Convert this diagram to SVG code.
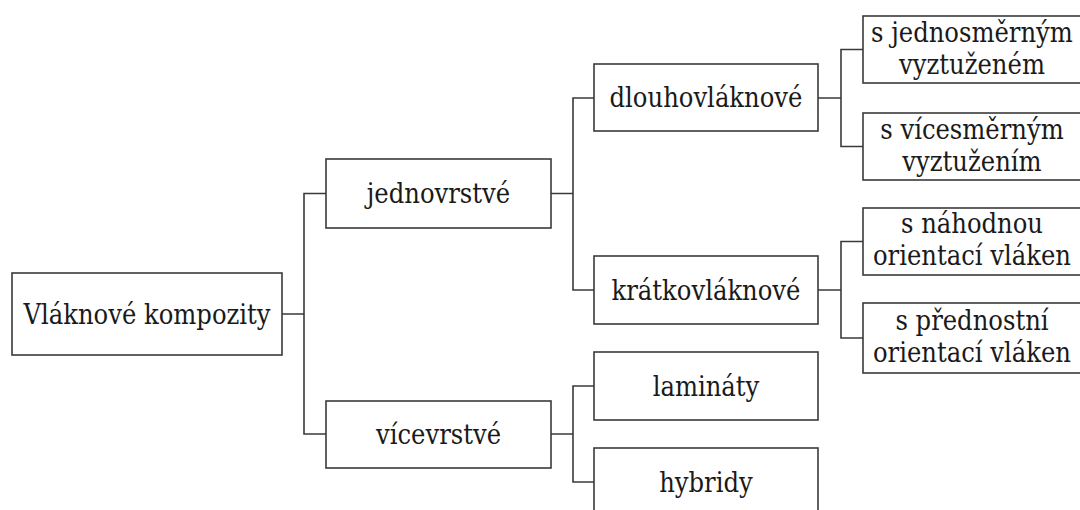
<svg xmlns="http://www.w3.org/2000/svg" width="1080" height="510" viewBox="0 0 1080 510">
<style>
.box{fill:#fff;stroke:#3a3a3a;stroke-width:1.6}
.t{font-family:'DejaVu Serif Condensed','DejaVu Serif',serif;font-stretch:condensed;font-size:27px;fill:#1a1a1a;text-anchor:middle}
.c{fill:none;stroke:#3a3a3a;stroke-width:1.6}
</style>
<rect width="1080" height="510" fill="#fff"/>
<g id="connectors">
<path class="c" d="M282,314H304M326,193.5H304V434H326"/>
<path class="c" d="M551,193.5H573M594,98H573V290H594"/>
<path class="c" d="M551,434H573M594,386H573V482H594"/>
<path class="c" d="M818,98H841M863,49.5H841V146.5H863"/>
<path class="c" d="M818,290H841M863,241.5H841V338H863"/>
</g>
<g id="root"><rect class="box" x="12" y="273" width="270" height="82"/><text class="t" x="147" y="324">Vláknové kompozity</text></g>
<g id="jednovrstve"><rect class="box" x="326" y="159" width="225" height="69"/><text class="t" x="438.5" y="203">jednovrstvé</text></g>
<g id="vicevrstve"><rect class="box" x="326" y="401" width="225" height="67"/><text class="t" x="438.5" y="444">vícevrstvé</text></g>
<g id="dlouhovlaknove"><rect class="box" x="594" y="64" width="224" height="67"/><text class="t" x="706" y="107">dlouhovláknové</text></g>
<g id="kratkovlaknove"><rect class="box" x="594" y="256" width="224" height="68"/><text class="t" x="706" y="300">krátkovláknové</text></g>
<g id="laminaty"><rect class="box" x="594" y="352" width="224" height="68"/><text class="t" x="706" y="396">lamináty</text></g>
<g id="hybridy"><rect class="box" x="594" y="448" width="224" height="68"/><text class="t" x="706" y="492">hybridy</text></g>
<g id="jednosmerne"><rect class="box" x="863" y="16" width="230" height="67"/><text class="t" x="972" y="42">s jednosměrným</text><text class="t" x="972" y="74">vyztuženém</text></g>
<g id="vicesmerne"><rect class="box" x="863" y="113" width="230" height="67"/><text class="t" x="972" y="139">s vícesměrným</text><text class="t" x="972" y="171">vyztužením</text></g>
<g id="nahodna"><rect class="box" x="863" y="208" width="230" height="67"/><text class="t" x="972" y="233">s náhodnou</text><text class="t" x="972" y="265">orientací vláken</text></g>
<g id="prednostni"><rect class="box" x="863" y="303" width="230" height="70"/><text class="t" x="972" y="330">s přednostní</text><text class="t" x="972" y="362">orientací vláken</text></g>
</svg>
